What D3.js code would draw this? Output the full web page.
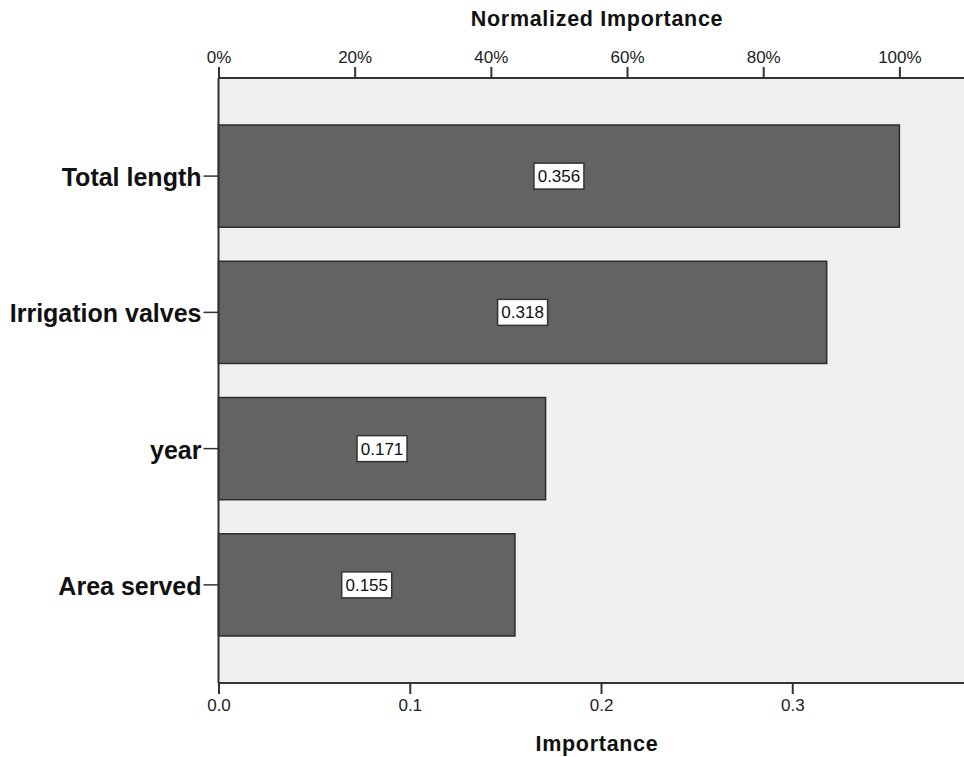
<!DOCTYPE html>
<html><head><meta charset="utf-8">
<script src="https://cdn.jsdelivr.net/npm/d3@7"></script>
<style>body{margin:0;background:#fff}text{font-family:"Liberation Sans",Arial,sans-serif}</style>
</head><body>
<svg id="chart" width="964" height="757"></svg>
<script>
const categories = ["Total length", "Irrigation valves", "year", "Area served"];
const importance = [0.356, 0.318, 0.171, 0.155];
const bottomTicks = [0.0, 0.1, 0.2, 0.3];
const topTicks = [0, 0.2, 0.4, 0.6, 0.8, 1.0];

const svg = d3.select("#chart");
const L = 218.5, R = 964.4, T = 78, B = 683;
const x = d3.scaleLinear().domain([0, 0.39]).range([L, R]);
const maxImp = d3.max(importance);
const xTop = d3.scaleLinear().domain([0, 1]).range([x(0), x(maxImp)]);
const y = d3.scaleBand().domain(categories).range([T, B]).paddingInner(0.25).paddingOuter(0.345);

svg.append("rect").attr("x", L).attr("y", T).attr("width", R - L).attr("height", B - T).attr("fill", "#f0f0f0");

svg.selectAll("rect.bar").data(categories).join("rect").attr("class", "bar")
  .attr("x", x(0)).attr("y", d => y(d))
  .attr("width", (d, i) => x(importance[i]) - x(0)).attr("height", y.bandwidth())
  .attr("fill", "#636363").attr("stroke", "#2b2b2b").attr("stroke-width", 1.5);

// value labels
const lab = svg.selectAll("g.vl").data(categories).join("g").attr("class", "vl")
  .attr("transform", (d, i) => `translate(${(x(0) + x(importance[i])) / 2},${y(d) + y.bandwidth() / 2})`);
lab.append("rect").attr("x", -25).attr("y", -13).attr("width", 50).attr("height", 26)
  .attr("fill", "#fff").attr("stroke", "#333").attr("stroke-width", 1.5);
lab.append("text").attr("text-anchor", "middle").attr("dy", "0.36em").attr("font-size", 17)
  .attr("fill", "#111").text((d, i) => importance[i].toFixed(3));

// bottom axis
const gB = svg.append("g").attr("transform", `translate(0,${B})`)
  .call(d3.axisBottom(x).tickValues(bottomTicks).tickFormat(d3.format(".1f")).tickSize(11).tickSizeOuter(0));
// top axis
const gT = svg.append("g").attr("transform", `translate(0,${T})`)
  .call(d3.axisTop(xTop).tickValues(topTicks).tickFormat(d3.format(".0%")).tickSize(11).tickSizeOuter(0));
[gB, gT].forEach(g => {
  g.select(".domain").remove();
  g.selectAll(".tick line").attr("stroke", "#333").attr("stroke-width", 2);
  g.selectAll(".tick text").attr("font-size", 17).attr("fill", "#222").attr("font-family", "Liberation Sans, Arial, sans-serif");
});
gB.selectAll(".tick text").attr("y", 16);
gT.selectAll(".tick text").attr("y", -15);
svg.append("line").attr("x1", L).attr("x2", R).attr("y1", B).attr("y2", B).attr("stroke", "#333").attr("stroke-width", 2);
svg.append("line").attr("x1", L).attr("x2", R).attr("y1", T).attr("y2", T).attr("stroke", "#333").attr("stroke-width", 2);

// left axis
const gL = svg.append("g").attr("transform", `translate(${L},0)`)
  .call(d3.axisLeft(y).tickSize(15).tickSizeOuter(0));
gL.select(".domain").remove();
gL.selectAll(".tick line").attr("stroke", "#333").attr("stroke-width", 1.5);
gL.selectAll(".tick text").attr("x", -17).attr("font-size", 25).attr("font-weight", "bold")
  .attr("fill", "#111").attr("font-family", "Liberation Sans, Arial, sans-serif").attr("dy", "0.4em");
svg.append("line").attr("x1", L).attr("x2", L).attr("y1", T).attr("y2", B).attr("stroke", "#333").attr("stroke-width", 2);

svg.append("text").attr("x", 597).attr("y", 26).attr("text-anchor", "middle")
  .attr("font-size", 21.5).attr("font-weight", "bold").attr("fill", "#111").attr("letter-spacing", 0.7).text("Normalized Importance");
svg.append("text").attr("x", 597).attr("y", 751).attr("text-anchor", "middle")
  .attr("font-size", 21.5).attr("font-weight", "bold").attr("fill", "#111").attr("letter-spacing", 0.7).text("Importance");
</script>
</body></html>
